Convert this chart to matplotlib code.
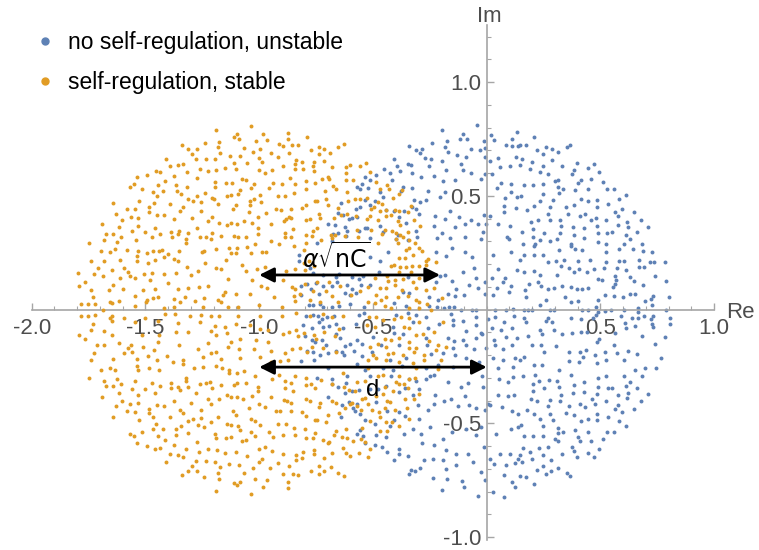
import matplotlib.pyplot as plt
from matplotlib.lines import Line2D
import numpy as np

plt.rcParams.update({
    'font.family': ['Liberation Sans', 'DejaVu Sans'],
    'mathtext.fontset': 'dejavusans',
})

# eigenvalues (Re + Im j)
blue_eigs = [
    # upper left / centre
    -0.537+0.583j, -0.549+0.554j, -0.570+0.540j, -0.557+0.529j, -0.537+0.480j, -0.557+0.453j,
    -0.576+0.444j, -0.642+0.470j, -0.632+0.416j, -0.606+0.400j, -0.591+0.404j, -0.572+0.409j,
    -0.655+0.425j, -0.696+0.378j, -0.666+0.371j, -0.677+0.331j, -0.654+0.337j, -0.623+0.362j,
    -0.617+0.324j, -0.563+0.346j, -0.537+0.359j, -0.680+0.303j, -0.746+0.294j, -0.613+0.347j,
    -0.041+0.810j, -0.195+0.789j, -0.104+0.770j, -0.116+0.751j, -0.088+0.751j, 0.018+0.766j,
    0.032+0.745j, 0.132+0.779j, 0.111+0.751j, -0.340+0.719j, -0.310+0.703j, -0.286+0.707j,
    -0.291+0.688j, -0.239+0.734j, -0.185+0.713j, -0.176+0.740j, -0.171+0.693j, -0.069+0.706j,
    -0.031+0.703j, -0.006+0.710j, -0.010+0.741j, 0.085+0.725j, 0.110+0.718j, 0.136+0.720j,
    -0.408+0.660j, -0.347+0.641j, -0.331+0.637j, -0.394+0.633j, -0.271+0.665j, -0.243+0.662j,
    -0.252+0.630j, -0.195+0.655j, -0.130+0.678j, -0.091+0.671j, -0.113+0.641j, -0.007+0.669j,
    0.013+0.655j, 0.048+0.666j, 0.129+0.669j, -0.451+0.617j, -0.425+0.600j, -0.379+0.608j,
    -0.328+0.599j, -0.288+0.583j, -0.230+0.589j, -0.177+0.614j, -0.102+0.615j, -0.139+0.568j,
    -0.192+0.564j, -0.069+0.602j, -0.023+0.576j, -0.007+0.597j, 0.022+0.595j, 0.057+0.628j,
    0.102+0.630j, -0.486+0.592j, -0.511+0.570j, -0.417+0.568j, -0.369+0.540j, -0.378+0.521j,
    -0.327+0.533j, -0.318+0.483j, -0.259+0.520j, -0.269+0.482j, -0.293+0.475j, -0.206+0.494j,
    -0.185+0.516j, 0.045+0.533j, 0.063+0.555j, 0.107+0.552j, 0.107+0.516j, 0.081+0.492j,
    0.132+0.496j, -0.471+0.517j, -0.521+0.536j, -0.457+0.494j, -0.493+0.479j, -0.511+0.461j,
    -0.442+0.438j, -0.407+0.432j, -0.385+0.406j, -0.362+0.435j, -0.329+0.453j, -0.312+0.441j,
    -0.296+0.422j, -0.227+0.412j, -0.185+0.400j, -0.163+0.435j, -0.123+0.409j, -0.069+0.394j,
    -0.094+0.374j, -0.012+0.417j, 0.015+0.413j, -0.003+0.376j, 0.075+0.454j, 0.076+0.428j,
    0.127+0.447j, 0.104+0.366j, 0.091+0.321j, 0.048+0.374j, -0.015+0.341j, -0.040+0.374j,
    -0.141+0.365j, -0.195+0.338j, -0.230+0.369j, -0.310+0.346j, -0.356+0.381j, -0.471+0.366j,
    -0.455+0.340j, -0.527+0.357j, -0.514+0.315j, -0.388+0.327j, -0.398+0.309j, -0.346+0.305j,
    -0.307+0.318j, -0.217+0.313j, -0.161+0.315j, -0.095+0.318j, -0.026+0.312j, 0.100+0.311j,
    # upper right
    0.208+0.760j, 0.146+0.722j, 0.173+0.725j, 0.223+0.701j, 0.249+0.684j, 0.262+0.713j,
    0.285+0.704j, 0.312+0.693j, 0.354+0.713j, 0.367+0.725j, 0.157+0.662j, 0.199+0.650j,
    0.285+0.656j, 0.145+0.634j, 0.190+0.619j, 0.233+0.606j, 0.246+0.630j, 0.268+0.597j,
    0.332+0.630j, 0.395+0.646j, 0.384+0.615j, 0.375+0.597j, 0.445+0.621j, 0.471+0.641j,
    0.493+0.606j, 0.164+0.546j, 0.203+0.549j, 0.247+0.551j, 0.299+0.565j, 0.312+0.568j,
    0.312+0.537j, 0.335+0.532j, 0.401+0.555j, 0.413+0.570j, 0.457+0.573j, 0.511+0.561j,
    0.387+0.526j, 0.445+0.532j, 0.527+0.532j, 0.561+0.529j, 0.152+0.501j, 0.249+0.507j,
    0.316+0.514j, 0.291+0.482j, 0.236+0.479j, 0.208+0.454j, 0.176+0.436j, 0.277+0.451j,
    0.348+0.450j, 0.384+0.460j, 0.413+0.488j, 0.445+0.479j, 0.483+0.482j, 0.531+0.466j,
    0.581+0.488j, 0.613+0.504j, 0.359+0.419j, 0.271+0.419j, 0.410+0.410j, 0.430+0.420j,
    0.486+0.450j, 0.564+0.431j, 0.596+0.442j, 0.575+0.413j, 0.649+0.428j, 0.193+0.385j,
    0.224+0.395j, 0.278+0.393j, 0.324+0.395j, 0.326+0.369j, 0.379+0.363j, 0.426+0.357j,
    0.460+0.393j, 0.480+0.403j, 0.526+0.395j, 0.578+0.372j, 0.615+0.384j, 0.679+0.395j,
    0.709+0.363j, 0.619+0.363j, 0.662+0.341j, 0.611+0.327j, 0.630+0.312j, 0.549+0.343j,
    0.530+0.338j, 0.488+0.337j, 0.486+0.366j, 0.428+0.316j, 0.382+0.327j, 0.321+0.335j,
    0.253+0.338j, 0.202+0.354j, 0.157+0.341j, 0.205+0.319j, 0.233+0.306j, 0.277+0.303j,
    0.310+0.309j, 0.369+0.286j, 0.490+0.296j, 0.526+0.289j, 0.605+0.289j, 0.681+0.290j,
    0.158+0.289j, 0.212+0.286j,
    # middle band, left of the y axis
    -0.825+0.240j, -0.825+0.213j, -0.775+0.181j, -0.764+0.160j, -0.720+0.152j, -0.661+0.141j,
    -0.651+0.156j, -0.591+0.141j, -0.563+0.134j, -0.543+0.147j, -0.815+0.105j, -0.792+0.112j,
    -0.752+0.115j, -0.773+0.092j, -0.720+0.103j, -0.682+0.105j, -0.657+0.122j, -0.612+0.106j,
    -0.591+0.090j, -0.554+0.108j, -0.816+0.064j, -0.737+0.067j, -0.625+0.074j, -0.603+0.064j,
    -0.573+0.074j, -0.783+0.021j, -0.764+0.018j, -0.733+0.023j, -0.718+0.013j, -0.682+0.011j,
    -0.650+0.014j, -0.600+0.026j, -0.541+0.010j, -0.796-0.027j, -0.764-0.025j, -0.742-0.028j,
    -0.726-0.042j, -0.702-0.034j, -0.673-0.028j, -0.562-0.025j, -0.541-0.017j, -0.808-0.068j,
    -0.770-0.080j, -0.737-0.056j, -0.720-0.075j, -0.694-0.071j, -0.664-0.065j, -0.633-0.080j,
    -0.575-0.065j, -0.797-0.116j, -0.770-0.134j, -0.755-0.144j, -0.723-0.132j, -0.708-0.156j,
    -0.664-0.109j, -0.644-0.124j, -0.625-0.159j, -0.600-0.150j, -0.571-0.134j, -0.547-0.150j,
    -0.790-0.182j, -0.764-0.188j, -0.734-0.200j, -0.696-0.192j, -0.664-0.182j, -0.638-0.188j,
    -0.628-0.200j, -0.584-0.182j, -0.549-0.204j, -0.818-0.225j, -0.759-0.222j, -0.698-0.258j,
    -0.570-0.238j, -0.537-0.266j,
    -0.436+0.254j, -0.515+0.232j, -0.471+0.213j, -0.223+0.251j, -0.179+0.237j, -0.152+0.269j,
    -0.097+0.254j, -0.065+0.231j, 0.026+0.240j, 0.108+0.254j, -0.474+0.166j, -0.266+0.166j,
    -0.204+0.149j, -0.185+0.152j, -0.105+0.166j, -0.054+0.184j, -0.047+0.137j, 0.023+0.140j,
    0.051+0.178j, 0.082+0.137j, 0.132+0.174j, -0.515+0.108j, -0.347+0.144j, -0.223+0.119j,
    -0.154+0.125j, -0.135+0.090j, -0.076+0.108j, -0.040+0.096j, -0.009+0.119j, 0.044+0.096j,
    0.070+0.119j, 0.105+0.105j, -0.369+0.079j, -0.340+0.071j, -0.252+0.057j, -0.215+0.042j,
    -0.171+0.067j, -0.138+0.058j, -0.100+0.064j, -0.009+0.067j, 0.026+0.064j, 0.100+0.079j,
    -0.407+0.027j, -0.354+0.017j, -0.252+0.017j, -0.220+0.013j, -0.186+0.005j, -0.167+0.013j,
    -0.142+0.013j, -0.113-0.002j, -0.065-0.002j, -0.047-0.002j, 0.038-0.002j, 0.085-0.002j,
    0.114+0.001j, -0.398-0.024j, -0.347-0.017j, -0.310-0.024j, -0.266-0.031j, -0.157-0.021j,
    -0.146-0.046j, -0.106-0.050j, -0.047-0.031j, 0.007-0.042j, 0.038-0.031j, 0.078-0.053j,
    0.122-0.027j, -0.413-0.075j, -0.325-0.053j, -0.259-0.080j, -0.208-0.065j, -0.150-0.068j,
    -0.091-0.094j, -0.047-0.068j, -0.025-0.104j, 0.023-0.080j, 0.063-0.090j, 0.111-0.080j,
    -0.501-0.119j, -0.406-0.104j, -0.369-0.109j, -0.266-0.126j, -0.171-0.124j, -0.142-0.138j,
    -0.103-0.134j, -0.047-0.126j, -0.021-0.109j, 0.034-0.134j, 0.085-0.119j, 0.132-0.126j,
    -0.464-0.156j, -0.387-0.156j, -0.264-0.156j, -0.146-0.167j, -0.091-0.156j, -0.054-0.173j,
    -0.003-0.170j, 0.038-0.156j, 0.073-0.173j, 0.111-0.156j, -0.504-0.185j, -0.425-0.222j,
    -0.354-0.214j, -0.245-0.197j, -0.190-0.192j, -0.141-0.200j, -0.091-0.214j, -0.032-0.232j,
    0.026-0.214j, 0.073-0.222j, 0.126-0.214j, -0.454-0.255j, -0.413-0.266j, -0.269-0.258j,
    -0.215-0.244j, -0.150-0.251j, -0.047-0.251j, 0.048-0.255j, 0.114-0.251j, -0.372-0.247j,
    # middle band, right of the y axis
    0.208+0.278j, 0.318+0.263j, 0.369+0.281j, 0.387+0.266j, 0.420+0.260j, 0.526+0.251j,
    0.581+0.266j, 0.643+0.267j, 0.687+0.257j, 0.725+0.254j, 0.164+0.242j, 0.208+0.240j,
    0.247+0.240j, 0.145+0.218j, 0.271+0.210j, 0.303+0.215j, 0.340+0.218j, 0.403+0.213j,
    0.452+0.218j, 0.523+0.207j, 0.581+0.215j, 0.605+0.215j, 0.669+0.219j, 0.716+0.207j,
    0.736+0.210j, 0.782+0.207j, 0.164+0.163j, 0.208+0.169j, 0.234+0.152j, 0.325+0.193j,
    0.362+0.181j, 0.384+0.166j, 0.406+0.178j, 0.442+0.166j, 0.471+0.178j, 0.515+0.184j,
    0.572+0.184j, 0.613+0.175j, 0.669+0.188j, 0.693+0.185j, 0.310+0.152j, 0.508+0.131j,
    0.490+0.133j, 0.570+0.130j, 0.564+0.149j, 0.632+0.141j, 0.647+0.125j, 0.738+0.146j,
    0.186+0.111j, 0.225+0.120j, 0.240+0.105j, 0.271+0.090j, 0.296+0.093j, 0.332+0.105j,
    0.372+0.100j, 0.395+0.092j, 0.417+0.092j, 0.447+0.093j, 0.564+0.112j, 0.553+0.100j,
    0.687+0.108j, 0.788+0.125j, 0.168+0.086j, 0.344+0.057j, 0.174+0.055j, 0.259+0.042j,
    0.403+0.039j, 0.520+0.064j, 0.559+0.058j, 0.600+0.054j, 0.630+0.070j, 0.654+0.070j,
    0.695+0.038j, 0.723+0.046j, 0.731+0.061j, 0.802+0.054j, 0.164-0.003j, 0.183-0.003j,
    0.201-0.003j, 0.234+0.020j, 0.277-0.003j, 0.296-0.003j, 0.369+0.032j, 0.420-0.003j,
    0.445-0.003j, 0.488+0.043j, 0.482+0.011j, 0.520-0.005j, 0.545-0.003j, 0.603-0.003j,
    0.665+0.008j, 0.666-0.009j, 0.728+0.020j, 0.788-0.003j, 0.482-0.024j, 0.164-0.036j,
    0.271-0.036j, 0.369-0.036j, 0.288-0.056j, 0.262-0.050j, 0.413-0.043j, 0.467-0.039j,
    0.488-0.009j, 0.589-0.027j, 0.637-0.037j, 0.663-0.036j, 0.692-0.027j, 0.723-0.042j,
    0.732-0.028j, 0.804-0.036j, 0.171-0.056j, 0.233-0.088j, 0.296-0.091j, 0.332-0.109j,
    0.373-0.104j, 0.413-0.100j, 0.442-0.100j, 0.493-0.129j, 0.564-0.102j, 0.606-0.059j,
    0.613-0.080j, 0.654-0.071j, 0.726-0.062j, 0.731-0.077j, 0.804-0.062j, 0.183-0.115j,
    0.242-0.109j, 0.201-0.156j, 0.239-0.156j, 0.164-0.208j, 0.145-0.222j, 0.306-0.159j,
    0.252-0.185j, 0.362-0.185j, 0.410-0.185j, 0.435-0.176j, 0.483-0.141j, 0.518-0.185j,
    0.559-0.156j, 0.574-0.192j, 0.621-0.182j, 0.662-0.195j, 0.739-0.150j, 0.684-0.115j,
    0.782-0.121j, 0.208-0.244j, 0.244-0.244j, 0.318-0.266j, 0.362-0.226j, 0.406-0.229j,
    0.423-0.208j, 0.474-0.200j, 0.483-0.235j, 0.526-0.220j, 0.603-0.222j, 0.650-0.267j,
    0.694-0.258j, 0.745-0.258j, 0.764-0.214j,
    # lower left
    -0.746-0.301j, -0.682-0.307j, -0.614-0.293j, -0.682-0.326j, -0.654-0.341j, -0.620-0.323j,
    -0.625-0.367j, -0.563-0.353j, -0.590-0.358j, -0.696-0.385j, -0.635-0.421j, -0.607-0.407j,
    -0.570-0.416j, -0.588-0.432j, -0.642-0.474j, -0.579-0.448j, -0.557-0.457j, -0.535-0.484j,
    -0.556-0.531j, -0.569-0.547j, -0.544-0.556j, -0.537-0.587j,
    -0.515-0.293j, -0.420-0.290j, -0.343-0.304j, -0.310-0.312j, -0.296-0.348j, -0.267-0.307j,
    -0.249-0.290j, -0.231-0.287j, -0.171-0.319j, -0.113-0.341j, -0.083-0.322j, -0.021-0.293j,
    -0.015-0.341j, 0.053-0.304j, 0.092-0.319j, 0.114-0.297j, -0.512-0.351j, -0.479-0.348j,
    -0.442-0.334j, -0.357-0.344j, -0.385-0.363j, -0.325-0.377j, -0.303-0.421j, -0.227-0.375j,
    -0.189-0.404j, -0.157-0.392j, -0.094-0.380j, -0.076-0.421j, 0.004-0.414j, 0.015-0.418j,
    0.048-0.377j, 0.092-0.382j, 0.122-0.377j, -0.486-0.407j, -0.438-0.448j, -0.384-0.451j,
    -0.359-0.468j, -0.296-0.480j, -0.256-0.443j, -0.230-0.414j, -0.127-0.426j, -0.047-0.433j,
    -0.006-0.443j, 0.067-0.429j, 0.110-0.448j, 0.136-0.458j, -0.406-0.484j, -0.493-0.502j,
    -0.486-0.553j, -0.442-0.560j, -0.423-0.512j, -0.362-0.546j, -0.325-0.524j, -0.288-0.546j,
    -0.249-0.517j, -0.193-0.568j, -0.152-0.539j, -0.091-0.524j, -0.047-0.553j, -0.025-0.517j,
    0.041-0.546j, 0.107-0.527j, 0.136-0.517j, -0.493-0.597j, -0.460-0.604j, -0.439-0.626j,
    -0.384-0.612j, -0.387-0.634j, -0.344-0.645j, -0.284-0.587j, -0.230-0.594j, -0.179-0.619j,
    -0.136-0.637j, -0.083-0.634j, -0.010-0.604j, 0.015-0.656j, 0.059-0.634j, 0.102-0.634j,
    0.136-0.659j, -0.408-0.663j, -0.332-0.707j, -0.313-0.711j, -0.274-0.663j, -0.291-0.697j,
    -0.237-0.659j, -0.193-0.663j, -0.179-0.700j, -0.135-0.685j, -0.062-0.670j, -0.025-0.714j,
    0.031-0.678j, 0.085-0.685j, 0.123-0.673j, -0.340-0.722j, -0.237-0.739j, -0.174-0.743j,
    -0.108-0.752j, -0.098-0.780j, -0.006-0.751j, 0.078-0.729j, 0.111-0.758j, 0.123-0.780j,
    -0.195-0.795j, -0.040-0.820j, 0.026-0.802j, 0.078-0.824j,
    # lower right
    0.158-0.293j, 0.211-0.287j, 0.231-0.312j, 0.275-0.310j, 0.309-0.315j, 0.369-0.287j,
    0.489-0.301j, 0.526-0.293j, 0.605-0.290j, 0.682-0.293j, 0.205-0.326j, 0.252-0.347j,
    0.319-0.341j, 0.382-0.331j, 0.428-0.320j, 0.489-0.341j, 0.531-0.344j, 0.549-0.345j,
    0.611-0.336j, 0.630-0.320j, 0.662-0.347j, 0.202-0.360j, 0.326-0.375j, 0.379-0.367j,
    0.426-0.361j, 0.486-0.373j, 0.577-0.376j, 0.619-0.369j, 0.709-0.370j, 0.193-0.394j,
    0.223-0.402j, 0.278-0.397j, 0.324-0.404j, 0.360-0.423j, 0.408-0.416j, 0.430-0.429j,
    0.461-0.395j, 0.477-0.413j, 0.524-0.401j, 0.575-0.421j, 0.618-0.388j, 0.679-0.401j,
    0.176-0.440j, 0.271-0.423j, 0.208-0.459j, 0.234-0.481j, 0.277-0.459j, 0.290-0.486j,
    0.347-0.454j, 0.384-0.465j, 0.413-0.492j, 0.445-0.483j, 0.485-0.457j, 0.483-0.487j,
    0.531-0.471j, 0.564-0.439j, 0.596-0.451j, 0.649-0.436j, 0.152-0.509j, 0.249-0.512j,
    0.313-0.522j, 0.312-0.543j, 0.335-0.540j, 0.387-0.531j, 0.445-0.537j, 0.529-0.540j,
    0.561-0.537j, 0.581-0.492j, 0.612-0.512j, 0.164-0.555j, 0.202-0.558j, 0.246-0.555j,
    0.300-0.568j, 0.312-0.577j, 0.400-0.562j, 0.411-0.577j, 0.457-0.578j, 0.511-0.571j,
    0.158-0.610j, 0.190-0.626j, 0.231-0.610j, 0.268-0.606j, 0.373-0.604j, 0.382-0.623j,
    0.395-0.650j, 0.445-0.629j, 0.471-0.650j, 0.492-0.613j, 0.146-0.640j, 0.199-0.656j,
    0.246-0.638j, 0.284-0.662j, 0.332-0.637j, 0.157-0.670j, 0.249-0.688j, 0.223-0.705j,
    0.284-0.708j, 0.312-0.697j, 0.353-0.717j, 0.367-0.733j, 0.262-0.722j, 0.146-0.730j,
    0.173-0.736j, 0.208-0.768j,
]

orange_eigs = [
    # upper left
    -1.340+0.722j, -1.239+0.731j, -1.311+0.707j, -1.275+0.707j, -1.294+0.684j, -1.410+0.662j,
    -1.277+0.662j, -1.236+0.662j, -1.334+0.641j, -1.357+0.635j, -1.390+0.630j, -1.454+0.609j,
    -1.434+0.603j, -1.262+0.618j, -1.227+0.609j, -1.319+0.603j, -1.491+0.591j, -1.535+0.583j,
    -1.375+0.587j, -1.275+0.577j, -1.413+0.565j, -1.444+0.548j, -1.551+0.553j, -1.568+0.540j,
    -1.517+0.531j, -1.366+0.546j, -1.316+0.537j, -1.467+0.517j, -1.423+0.521j, -1.363+0.520j,
    -1.343+0.508j, -1.451+0.499j, -1.239+0.511j, -1.272+0.499j, -1.206+0.490j, -1.312+0.485j,
    -1.529+0.476j, -1.290+0.476j, -1.255+0.473j, -1.643+0.467j, -1.391+0.464j, -1.463+0.467j,
    -1.486+0.449j, -1.546+0.444j, -1.579+0.441j, -1.337+0.449j, -1.486+0.430j, -1.346+0.435j,
    -1.255+0.435j, -1.630+0.419j, -1.565+0.407j, -1.533+0.401j, -1.451+0.414j, -1.417+0.416j,
    -1.604+0.395j, -1.375+0.398j, -1.297+0.404j, -1.209+0.407j, -1.224+0.389j, -1.690+0.378j,
    -1.532+0.366j, -1.618+0.363j, -1.457+0.359j, -1.274+0.360j, -1.557+0.344j, -1.502+0.341j,
    -1.387+0.340j, -1.353+0.344j, -1.674+0.332j, -1.642+0.332j, -1.435+0.334j, -1.357+0.332j,
    -1.311+0.335j, -1.208+0.337j, -1.606+0.320j, -1.473+0.319j, -1.385+0.319j, -1.261+0.319j,
    -1.236+0.319j, -1.214+0.312j, -1.684+0.306j, -1.543+0.307j, -1.322+0.310j, -1.624+0.297j,
    -1.746+0.291j, -1.322+0.291j,
    # upper centre
    -1.038+0.808j, -1.190+0.789j, -1.096+0.770j, -1.111+0.759j, -1.087+0.751j, -0.983+0.773j,
    -0.874+0.778j, -0.875+0.751j, -0.792+0.760j, -1.175+0.737j, -1.016+0.742j, -0.966+0.745j,
    -0.915+0.728j, -0.896+0.719j, -0.856+0.725j, -0.830+0.722j, -1.180+0.713j, -1.067+0.710j,
    -0.998+0.707j, -1.171+0.690j, -1.026+0.693j, -0.950+0.690j, -0.871+0.690j, -0.774+0.703j,
    -0.737+0.716j, -0.714+0.704j, -0.655+0.713j, -0.629+0.728j, -0.737+0.684j, -0.688+0.688j,
    -1.130+0.674j, -1.086+0.675j, -1.002+0.665j, -0.918+0.671j, -0.838+0.659j, -1.196+0.662j,
    -1.112+0.643j, -1.052+0.643j, -0.986+0.650j, -0.814+0.647j, -0.759+0.650j, -0.714+0.652j,
    -1.152+0.624j, -1.102+0.619j, -1.188+0.612j, -1.001+0.612j, -0.975+0.602j, -0.942+0.612j,
    -0.896+0.630j, -0.843+0.638j, -0.841+0.619j, -0.809+0.617j, -0.762+0.633j, -0.761+0.611j,
    -0.679+0.627j, -0.617+0.625j, -0.601+0.636j, -0.559+0.630j, -0.620+0.602j, -1.076+0.576j,
    -1.057+0.568j, -1.021+0.554j, -1.147+0.558j, -1.121+0.557j, -1.193+0.559j, -1.193+0.537j,
    -1.035+0.533j, -1.086+0.527j, -0.957+0.533j, -0.939+0.556j, -0.898+0.551j, -0.865+0.578j,
    -0.844+0.551j, -0.793+0.564j, -0.754+0.558j, -0.724+0.573j, -0.699+0.581j, -0.692+0.576j,
    -0.617+0.570j, -0.588+0.570j, -0.674+0.543j, -0.661+0.530j, -0.612+0.518j, -0.711+0.521j,
    -0.793+0.530j, -0.847+0.511j, -0.885+0.499j, -0.918+0.499j, -0.998+0.505j, -1.021+0.485j,
    -1.039+0.477j, -1.124+0.505j, -1.093+0.507j, -1.143+0.499j, -0.991+0.472j, -1.199+0.488j,
    -1.183+0.464j, -1.117+0.441j, -1.101+0.460j, -1.042+0.458j, -0.928+0.444j, -0.906+0.439j,
    -0.859+0.444j, -0.796+0.461j, -0.811+0.447j, -0.755+0.479j, -0.748+0.479j, -0.705+0.485j,
    -0.699+0.460j, -0.652+0.447j, -0.610+0.476j, -0.578+0.488j, -0.557+0.485j, -1.045+0.428j,
    -0.972+0.425j, -1.004+0.406j, -0.871+0.406j, -0.881+0.398j, -0.891+0.390j, -0.862+0.403j,
    -0.778+0.397j, -0.796+0.394j, -0.736+0.422j, -0.733+0.403j, -0.670+0.404j, -0.639+0.414j,
    -0.616+0.419j, -0.573+0.412j, -1.177+0.382j, -1.143+0.371j, -1.125+0.379j, -1.096+0.376j,
    -1.067+0.390j, -1.030+0.379j, -1.004+0.359j, -0.947+0.375j, -0.853+0.352j, -0.888+0.338j,
    -0.762+0.346j, -0.746+0.360j, -0.685+0.328j, -0.682+0.313j, -0.793+0.327j, -0.770+0.322j,
    -0.862+0.318j, -0.888+0.319j, -0.950+0.303j, -1.007+0.332j, -1.060+0.318j, -1.109+0.322j,
    -1.095+0.319j, -1.166+0.324j, -0.571+0.349j, -0.566+0.319j, -1.020+0.290j, -0.913+0.287j,
    -0.793+0.293j, -0.730+0.306j, -0.669+0.327j, -0.625+0.322j,
    -0.530+0.644j, -0.512+0.605j, -0.486+0.561j, -0.470+0.530j, -0.438+0.549j, -0.429+0.529j,
    -0.526+0.491j, -0.477+0.472j, -0.461+0.464j, -0.414+0.489j, -0.387+0.510j, -0.373+0.524j,
    -0.510+0.444j, -0.495+0.450j, -0.471+0.434j, -0.442+0.436j, -0.420+0.417j, -0.401+0.438j,
    -0.384+0.435j, -0.442+0.410j, -0.512+0.412j, -0.526+0.398j, -0.479+0.393j, -0.391+0.390j,
    -0.379+0.371j, -0.318+0.394j, -0.346+0.431j, -0.332+0.457j, -0.291+0.366j, -0.344+0.340j,
    -0.449+0.350j, -0.416+0.347j, -0.510+0.349j, -0.460+0.332j, -0.398+0.337j, -0.382+0.328j,
    -0.366+0.318j, -0.400+0.312j, -0.343+0.306j, -0.477+0.293j, -0.389+0.293j, -0.315+0.293j,
    # middle band
    -1.694+0.259j, -1.656+0.251j, -1.636+0.267j, -1.579+0.262j, -1.532+0.256j, -1.494+0.247j,
    -1.466+0.256j, -1.440+0.259j, -1.426+0.260j, -1.400+0.245j, -1.353+0.257j, -1.252+0.251j,
    -1.243+0.259j, -1.741+0.215j, -1.681+0.215j, -1.612+0.218j, -1.539+0.235j, -1.536+0.213j,
    -1.489+0.204j, -1.459+0.220j, -1.418+0.229j, -1.374+0.222j, -1.355+0.215j, -1.317+0.188j,
    -1.268+0.169j, -1.239+0.204j, -1.709+0.184j, -1.649+0.175j, -1.593+0.184j, -1.577+0.163j,
    -1.569+0.149j, -1.507+0.158j, -1.472+0.161j, -1.419+0.155j, -1.364+0.161j, -1.298+0.153j,
    -1.795+0.159j, -1.725+0.155j, -1.687+0.149j, -1.614+0.140j, -1.545+0.140j, -1.482+0.131j,
    -1.766+0.122j, -1.794+0.105j, -1.740+0.087j, -1.661+0.086j, -1.642+0.108j, -1.598+0.089j,
    -1.511+0.087j, -1.459+0.090j, -1.402+0.118j, -1.355+0.092j, -1.311+0.095j, -1.265+0.098j,
    -1.227+0.102j, -1.731+0.057j, -1.547+0.058j, -1.491+0.043j, -1.468+0.051j, -1.443+0.055j,
    -1.375+0.046j, -1.327+0.055j, -1.242+0.052j, -1.782+0.024j, -1.752+0.024j, -1.721+0.023j,
    -1.656+0.033j, -1.645+0.027j, -1.615+0.038j, -1.544+0.014j, -1.497+0.033j, -1.419+0.008j,
    -1.374+0.013j, -1.350+0.032j, -1.284+0.036j, -1.246+0.011j, -1.687-0.002j, -1.782-0.028j,
    -1.752-0.028j, -1.721-0.025j, -1.656-0.036j, -1.645-0.030j, -1.595-0.037j, -1.504-0.036j,
    -1.416-0.018j, -1.371-0.018j, -1.306-0.027j, -1.257-0.023j, -1.214-0.028j, -1.731-0.065j,
    -1.649-0.050j, -1.547-0.056j, -1.443-0.052j, -1.356-0.061j, -1.260-0.055j, -1.793-0.112j,
    -1.766-0.131j, -1.740-0.091j, -1.684-0.094j, -1.645-0.112j, -1.514-0.110j, -1.441-0.113j,
    -1.364-0.097j, -1.311-0.100j, -1.210-0.093j, -1.715-0.157j, -1.724-0.192j, -1.684-0.156j,
    -1.615-0.145j, -1.576-0.170j, -1.564-0.154j, -1.593-0.189j, -1.558-0.185j, -1.510-0.163j,
    -1.444-0.141j, -1.462-0.178j, -1.353-0.154j, -1.271-0.175j, -1.224-0.148j, -1.741-0.223j,
    -1.642-0.217j, -1.535-0.217j, -1.488-0.206j, -1.451-0.220j, -1.406-0.204j, -1.381-0.232j,
    -1.334-0.220j, -1.245-0.207j, -1.213-0.192j, -1.696-0.264j, -1.658-0.257j, -1.633-0.267j,
    -1.535-0.247j, -1.531-0.267j, -1.484-0.255j, -1.440-0.266j, -1.333-0.238j, -1.286-0.258j,
    -1.249-0.254j,
    -1.188+0.266j, -1.133+0.269j, -1.096+0.269j, -1.052+0.273j, -0.988+0.251j, -0.969+0.251j,
    -0.847+0.279j, -0.803+0.264j, -1.122+0.250j, -1.101+0.248j, -1.035+0.247j, -1.147+0.216j,
    -1.188+0.181j, -1.168+0.178j, -1.077+0.196j, -1.057+0.171j, -1.010+0.177j, -0.976+0.187j,
    -0.805+0.204j, -0.781+0.213j, -0.881+0.169j, -0.841+0.177j, -0.799+0.175j, -0.761+0.193j,
    -1.136+0.136j, -1.030+0.131j, -0.994+0.102j, -0.966+0.096j, -0.896+0.131j, -0.856+0.098j,
    -0.843+0.092j, -0.800+0.111j, -0.746+0.121j, -0.691+0.120j, -1.150+0.079j, -1.159+0.064j,
    -1.103+0.067j, -1.042+0.068j, -1.181+0.040j, -0.937+0.055j, -0.846+0.061j, -0.819+0.067j,
    -0.764+0.081j, -0.705+0.081j, -0.682+0.061j, -0.647+0.105j, -1.169+0.035j, -1.139+0.011j,
    -1.093+0.013j, -1.002+0.021j, -0.900+0.013j, -0.841+0.038j, -0.778+0.042j, -0.734+0.032j,
    -0.655+0.035j, -0.595+0.064j, -0.559+0.081j, -1.178-0.028j, -1.092-0.027j, -0.995-0.027j,
    -0.901-0.030j, -0.840-0.014j, -0.775-0.027j, -0.720-0.021j, -0.682-0.033j, -0.632-0.028j,
    -1.196-0.072j, -1.149-0.078j, -1.143-0.103j, -1.101-0.064j, -1.042-0.068j, -0.998-0.085j,
    -0.960-0.090j, -1.188-0.112j, -1.122-0.141j, -1.086-0.129j, -1.013-0.134j, -0.960-0.141j,
    -0.897-0.109j, -0.869-0.100j, -0.840-0.091j, -0.831-0.115j, -0.803-0.104j, -0.761-0.112j,
    -0.749-0.129j, -0.714-0.100j, -0.669-0.116j, -0.650-0.085j, -1.137-0.163j, -1.090-0.173j,
    -1.023-0.175j, -0.950-0.181j, -0.888-0.189j, -0.857-0.175j, -0.819-0.167j, -0.790-0.186j,
    -0.768-0.163j, -0.720-0.170j, -0.661-0.185j, -1.188-0.185j, -1.166-0.217j, -1.086-0.214j,
    -0.995-0.208j, -0.950-0.232j, -0.910-0.226j, -0.872-0.222j, -1.188-0.249j, -1.163-0.258j,
    -1.133-0.266j, -1.067-0.268j,
    -0.354+0.263j, -0.340+0.269j, -0.296+0.272j, -0.284+0.257j, -0.384+0.225j, -0.357+0.228j,
    -0.325+0.240j, -0.269+0.213j, -0.259+0.223j, -0.223+0.210j, -0.422+0.191j, -0.406+0.196j,
    -0.379+0.188j, -0.354+0.187j, -0.328+0.190j, -0.296+0.193j, -0.266+0.196j, -0.439+0.149j,
    -0.384+0.166j, -0.332+0.166j, -0.493+0.137j, -0.436+0.127j, -0.401+0.130j, -0.366+0.133j,
    -0.325+0.122j, -0.296+0.137j, -0.523+0.100j, -0.471+0.093j, -0.442+0.096j, -0.404+0.108j,
    -0.372+0.086j, -0.347+0.061j, -0.310+0.093j, -0.266+0.086j, -0.230+0.096j, -0.486+0.064j,
    -0.442+0.057j, -0.464+0.042j, -0.391+0.054j, -0.310+0.042j, -0.296+0.035j, -0.264+0.023j,
    -0.196+0.052j, -0.523+0.032j, -0.493+0.027j, -0.449+0.017j, -0.420+0.005j, -0.340+0.008j,
    -0.296+0.005j, -0.245-0.002j, -0.518-0.031j, -0.486-0.031j, -0.457-0.046j, -0.406-0.042j,
    -0.376-0.031j, -0.340-0.036j, -0.296-0.056j, -0.193-0.056j, -0.527-0.068j, -0.493-0.075j,
    -0.365-0.075j, -0.340-0.083j, -0.310-0.112j, -0.281-0.109j, -0.230-0.100j, -0.449-0.129j,
    -0.420-0.134j, -0.384-0.124j, -0.340-0.141j, -0.252-0.138j, -0.215-0.156j, -0.515-0.163j,
    -0.479-0.153j, -0.442-0.163j, -0.343-0.170j, -0.310-0.167j, -0.223-0.178j, -0.179-0.163j,
    -0.501-0.200j, -0.435-0.195j, -0.413-0.192j, -0.369-0.200j, -0.318-0.185j, -0.274-0.200j,
    -0.523-0.222j, -0.486-0.214j, -0.442-0.222j, -0.384-0.232j, -0.325-0.236j, -0.274-0.223j,
    -0.201-0.222j, -0.310-0.258j, -0.215-0.261j, -0.523-0.258j,
    # lower left
    -1.746-0.300j, -1.684-0.312j, -1.624-0.306j, -1.544-0.312j, -1.675-0.338j, -1.642-0.338j,
    -1.607-0.328j, -1.557-0.350j, -1.503-0.350j, -1.473-0.323j, -1.435-0.338j, -1.386-0.323j,
    -1.387-0.344j, -1.358-0.339j, -1.350-0.353j, -1.323-0.300j, -1.323-0.315j, -1.311-0.342j,
    -1.261-0.326j, -1.236-0.323j, -1.216-0.317j, -1.207-0.344j, -1.690-0.385j, -1.618-0.367j,
    -1.532-0.375j, -1.459-0.366j, -1.276-0.366j, -1.630-0.424j, -1.604-0.404j, -1.566-0.416j,
    -1.532-0.410j, -1.450-0.418j, -1.418-0.424j, -1.375-0.404j, -1.298-0.410j, -1.224-0.394j,
    -1.210-0.413j, -1.642-0.474j, -1.580-0.446j, -1.547-0.451j, -1.529-0.484j, -1.485-0.436j,
    -1.485-0.454j, -1.465-0.474j, -1.390-0.471j, -1.346-0.442j, -1.336-0.454j, -1.312-0.489j,
    -1.289-0.481j, -1.257-0.442j, -1.255-0.477j, -1.210-0.496j, -1.569-0.547j, -1.550-0.558j,
    -1.517-0.537j, -1.453-0.505j, -1.468-0.525j, -1.424-0.525j, -1.364-0.524j, -1.343-0.512j,
    -1.315-0.543j, -1.271-0.506j, -1.241-0.515j, -1.535-0.587j, -1.491-0.599j, -1.444-0.555j,
    -1.413-0.572j, -1.456-0.613j, -1.434-0.609j, -1.375-0.596j, -1.366-0.552j, -1.320-0.612j,
    -1.274-0.581j, -1.263-0.626j, -1.227-0.615j, -1.390-0.637j, -1.358-0.640j, -1.334-0.647j,
    -1.410-0.670j, -1.279-0.667j, -1.236-0.667j, -1.295-0.688j, -1.311-0.711j, -1.274-0.711j,
    -1.340-0.726j, -1.241-0.736j,
    # lower centre
    -1.133-0.278j, -1.096-0.278j, -1.020-0.293j, -0.945-0.307j, -0.913-0.287j, -0.885-0.312j,
    -0.844-0.291j, -0.793-0.300j, -0.771-0.329j, -0.756-0.344j, -0.727-0.310j, -0.679-0.329j,
    -0.632-0.281j, -0.568-0.319j, -0.537-0.316j, -1.166-0.331j, -1.111-0.331j, -1.096-0.323j,
    -1.058-0.323j, -1.007-0.341j, -1.005-0.360j, -0.862-0.322j, -0.885-0.344j, -0.852-0.356j,
    -0.796-0.331j, -1.175-0.391j, -1.143-0.377j, -1.124-0.385j, -1.096-0.383j, -1.070-0.394j,
    -1.030-0.380j, -1.002-0.416j, -0.975-0.429j, -0.948-0.383j, -0.891-0.398j, -0.878-0.402j,
    -0.860-0.410j, -0.796-0.395j, -0.777-0.401j, -0.732-0.410j, -0.735-0.430j, -0.682-0.404j,
    -0.663-0.410j, -0.626-0.341j, -0.606-0.353j, -0.578-0.356j, -0.591-0.411j, -0.550-0.395j,
    -0.537-0.389j, -1.115-0.448j, -1.102-0.465j, -1.045-0.432j, -0.928-0.448j, -0.907-0.446j,
    -0.859-0.446j, -0.812-0.452j, -0.793-0.468j, -0.756-0.487j, -0.746-0.484j, -0.698-0.465j,
    -0.705-0.495j, -0.651-0.454j, -0.625-0.433j, -0.603-0.416j, -0.570-0.426j, -0.554-0.440j,
    -1.183-0.471j, -1.142-0.505j, -1.122-0.509j, -1.093-0.514j, -1.084-0.531j, -1.038-0.483j,
    -1.017-0.490j, -0.997-0.509j, -0.918-0.505j, -0.884-0.505j, -0.847-0.520j, -0.800-0.524j,
    -0.755-0.543j, -0.661-0.533j, -0.620-0.524j, -0.547-0.521j, -1.194-0.546j, -1.188-0.565j,
    -1.147-0.563j, -1.122-0.562j, -1.074-0.580j, -1.057-0.572j, -1.035-0.539j, -1.020-0.556j,
    -0.957-0.540j, -0.938-0.560j, -0.897-0.553j, -0.844-0.553j, -0.796-0.563j, -0.764-0.563j,
    -0.721-0.575j, -0.699-0.588j, -0.691-0.581j, -0.673-0.550j, -0.638-0.560j, -0.612-0.563j,
    -0.588-0.578j, -0.553-0.568j, -0.535-0.582j, -1.185-0.619j, -1.152-0.629j, -1.102-0.628j,
    -1.052-0.645j, -0.999-0.615j, -0.976-0.606j, -0.944-0.621j, -0.896-0.634j, -0.840-0.641j,
    -0.838-0.663j, -0.812-0.653j, -0.808-0.626j, -0.761-0.635j, -0.761-0.616j, -0.715-0.654j,
    -0.679-0.632j, -0.631-0.609j, -0.619-0.631j, -0.603-0.642j, -0.560-0.632j, -1.196-0.670j,
    -1.171-0.694j, -1.131-0.679j, -1.087-0.682j, -1.067-0.717j, -1.026-0.697j, -1.002-0.670j,
    -0.986-0.656j, -0.951-0.698j, -0.918-0.675j, -0.869-0.689j, -0.897-0.723j, -0.850-0.724j,
    -0.830-0.726j, -0.773-0.708j, -0.737-0.689j, -0.737-0.722j, -0.715-0.710j, -0.686-0.692j,
    -0.654-0.720j, -0.628-0.732j, -1.180-0.717j, -1.177-0.744j, -1.111-0.761j, -1.086-0.758j,
    -1.096-0.773j, -1.017-0.746j, -0.966-0.751j, -0.874-0.758j, -0.983-0.780j, -0.875-0.786j,
    -1.191-0.796j, -1.038-0.812j,
    -0.479-0.294j, -0.454-0.287j, -0.387-0.293j, -0.340-0.307j, -0.315-0.300j, -0.398-0.319j,
    -0.384-0.326j, -0.363-0.326j, -0.346-0.344j, -0.449-0.341j, -0.413-0.358j, -0.454-0.370j,
    -0.486-0.380j, -0.438-0.402j, -0.423-0.407j, -0.523-0.414j, -0.505-0.443j, -0.474-0.451j,
    -0.448-0.433j, -0.403-0.440j, -0.350-0.433j, -0.321-0.392j, -0.357-0.395j, -0.471-0.473j,
    -0.442-0.495j, -0.416-0.495j, -0.384-0.512j, -0.343-0.480j, -0.515-0.492j, -0.471-0.533j,
    -0.438-0.533j, -0.515-0.612j, -0.523-0.648j, -0.296-0.370j,
]

series_labels = ['no self-regulation, unstable', 'self-regulation, stable']
series_colors = ['#5E81B5', '#E19C24']

# annotation arrows: radius of the disc and shift d
radius_arrow = (-1.0, -0.205, 0.152)
shift_arrow = (-1.0, 0.0, -0.253)

x_ticks = [-2.0, -1.5, -1.0, -0.5, 0.5, 1.0]
y_ticks = [-1.0, -0.5, 0.5, 1.0]

blue = np.array(blue_eigs)
orange = np.array(orange_eigs)

fig = plt.figure(figsize=(7.59, 5.5), dpi=100)
# axes placed so that 1 unit = 227.5 px in both directions
ax = fig.add_axes([31.7 / 759, 10 / 550, 682.5 / 759, 514.8 / 550])
ax.set_xlim(-2.0, 1.0)
ax.set_ylim(-1.013, 1.25)

ax.scatter(blue.real, blue.imag, s=8, color=series_colors[0], lw=0, zorder=2)
ax.scatter(orange.real, orange.imag, s=8, color=series_colors[1], lw=0, zorder=3)

# Mathematica-like axes crossing at the origin
axis_grey = '#a6a6a6'
for side in ['top', 'right']:
    ax.spines[side].set_visible(False)
for side in ['left', 'bottom']:
    ax.spines[side].set_position(('data', 0))
    ax.spines[side].set_color(axis_grey)
    ax.spines[side].set_linewidth(1.2)

ax.set_xticks(x_ticks)
ax.set_yticks(y_ticks)
ax.set_xticklabels(['%.1f' % t for t in x_ticks])
ax.set_yticklabels(['%.1f' % t for t in y_ticks])
ax.set_xticks(np.arange(-2.0, 1.01, 0.1), minor=True)
ax.set_yticks(np.arange(-1.0, 1.21, 0.1), minor=True)
ax.tick_params(which='both', direction='in', color=axis_grey, labelcolor='#4d4d4d',
               labelsize=16)
ax.tick_params(which='major', length=5, width=1)
ax.tick_params(which='minor', length=3, width=0.8)
ax.tick_params(axis='x', pad=6)
ax.tick_params(axis='y', pad=4)

ax.text(1.113, -0.015, 'Re', fontsize=16, color='#4d4d4d', ha='center', va='center',
        clip_on=False)
ax.text(0.01, 1.29, 'Im', fontsize=16, color='#4d4d4d', ha='center', va='center',
        clip_on=False)

# arrows with their labels
arrow_props = dict(arrowstyle='<|-|>', color='black', lw=2, mutation_scale=22,
                   shrinkA=0, shrinkB=0)
x0, x1, yy = radius_arrow
ax.annotate('', xy=(x0, yy), xytext=(x1, yy), arrowprops=arrow_props, zorder=5)
ax.text(-0.66, yy + 0.075, r'$\alpha\sqrt{\mathrm{nC}}$', fontsize=17,
        ha='center', va='center', zorder=6)
x0, x1, yy = shift_arrow
ax.annotate('', xy=(x0, yy), xytext=(x1, yy), arrowprops=arrow_props, zorder=5)
ax.text((x0 + x1) / 2, yy - 0.1, 'd', fontsize=17, ha='center', va='center', zorder=6)

handles = [Line2D([], [], ls='none', marker='o', ms=5, color=c) for c in series_colors]
fig.legend(handles, series_labels, loc='upper left', bbox_to_anchor=(38 / 759, 1 - 31 / 550),
           frameon=False, fontsize=16.5, handlelength=0.6, handletextpad=0.7,
           labelspacing=0.75, borderpad=0, borderaxespad=0)

fig.savefig('out.png', dpi=100)
